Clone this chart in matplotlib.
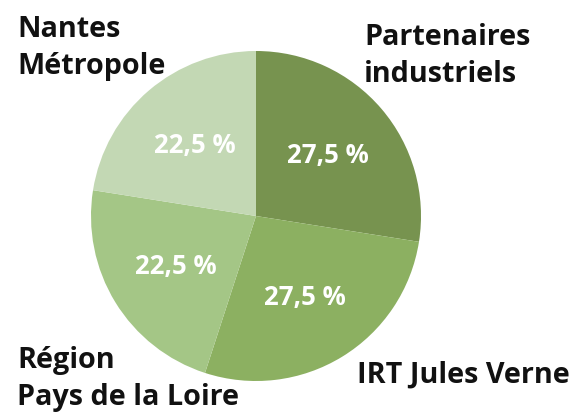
import matplotlib
matplotlib.use("Agg")
import matplotlib.pyplot as plt

categories = ["Partenaires\nindustriels", "IRT Jules Verne", "Région\nPays de la Loire", "Nantes\nMétropole"]
values = [27.5, 27.5, 22.5, 22.5]
colors = ["#77934F", "#8CB061", "#A4C686", "#C3D8B4"]

W, H = 580, 414
fig = plt.figure(figsize=(W / 100, H / 100), dpi=100)
cx, cy, r = 256, 217, 165
ax = fig.add_axes([(cx - r) / W, (H - cy - r) / H, 2 * r / W, 2 * r / H])

wedges, texts, autotexts = ax.pie(
    values, colors=colors, startangle=90, counterclock=False, radius=1,
    autopct=lambda p: f"{p:.1f} %".replace(".", ","), pctdistance=0.57,
    textprops=dict(color="white", fontsize=18.5, fontweight="bold", family="Open Sans"),
    wedgeprops=dict(linewidth=0),
)
ax.set_xlim(-1, 1)
ax.set_ylim(-1, 1)
ax.set_aspect("equal")
ax.axis("off")

lab = dict(fontsize=20.7, fontweight="bold", family="Open Sans", color="#111111",
           ha="left", va="baseline", linespacing=1.38)
fig.text(17 / W, 1 - 74 / H, categories[3], **lab)
fig.text(364 / W, 1 - 82 / H, categories[0], **lab)
fig.text(17 / W, 1 - 405 / H, categories[2], **lab)
fig.text(357 / W, 1 - 383 / H, categories[1], **lab)

fig.savefig("out.png", dpi=100)
